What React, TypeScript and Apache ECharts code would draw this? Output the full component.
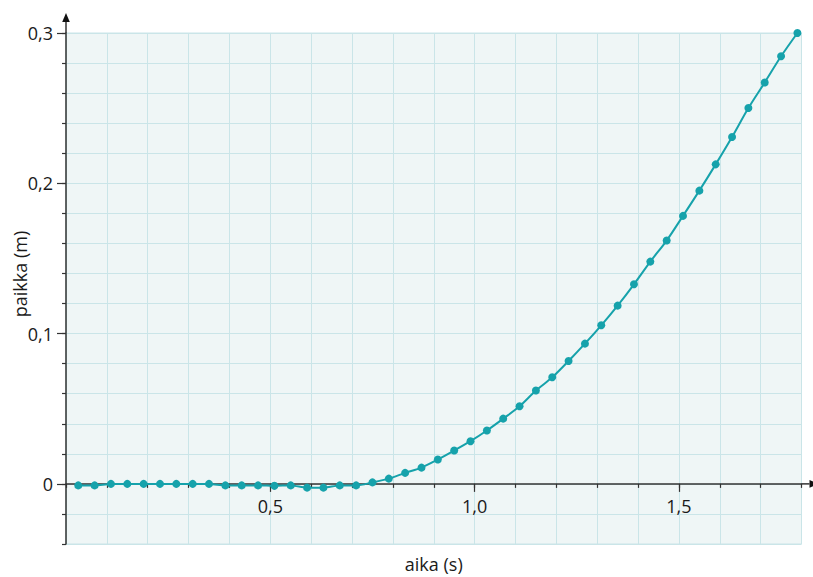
import React, { useEffect, useRef } from 'react';
import * as echarts from 'echarts';

// time (s)
const timeValues = [
  0.03, 0.07, 0.11, 0.15, 0.19, 0.23, 0.27, 0.31, 0.35, 0.39,
  0.43, 0.47, 0.51, 0.55, 0.59, 0.63, 0.67, 0.71, 0.75, 0.79,
  0.83, 0.87, 0.91, 0.95, 0.99, 1.03, 1.07, 1.11, 1.15, 1.19,
  1.23, 1.27, 1.31, 1.35, 1.39, 1.43, 1.47, 1.51, 1.55, 1.59,
  1.63, 1.67, 1.71, 1.75, 1.79,
];
// position (m)
const positionValues = [
  -0.001, -0.001, 0.0, 0.0, 0.0, 0.0, 0.0, 0.0, 0.0, -0.001,
  -0.001, -0.001, -0.0013, -0.001, -0.0025, -0.0025, -0.001, -0.001, 0.001, 0.0035,
  0.0073, 0.0108, 0.0162, 0.0222, 0.0284, 0.0355, 0.0434, 0.0516, 0.0621, 0.0709,
  0.0818, 0.0933, 0.1055, 0.1186, 0.1328, 0.1479, 0.1619, 0.1783, 0.1951, 0.2126,
  0.2308, 0.2501, 0.2671, 0.2845, 0.3,
];
const xMajorTicks = [0.5, 1.0, 1.5];
const yMajorTicks = [0, 0.1, 0.2, 0.3];
const xTitle = 'aika (s)';
const yTitle = 'paikka (m)';

const FONT = '"Open Sans", sans-serif';
const TEAL = '#16a2ab';
const GRIDLINE = '#cae5e8';
const AXIS = '#333333';

const fmt = (v: number) => (v === 0 ? '0' : v.toFixed(1).replace('.', ','));

export default function App() {
  const ref = useRef<HTMLDivElement>(null);
  useEffect(() => {
    if (!ref.current) return;
    const chart = echarts.init(ref.current, undefined, { renderer: 'svg' });
    const data = timeValues.map((t, i) => [t, positionValues[i]]);
    chart.setOption({
      animation: false,
      grid: {
        left: 66,
        right: 11.5,
        top: 33,
        bottom: 33,
        show: true,
        backgroundColor: '#eff6f6',
        borderColor: GRIDLINE,
        borderWidth: 1,
      },
      xAxis: [
        {
          id: 'xMinor',
          type: 'value',
          min: 0,
          max: 1.8,
          interval: 0.1,
          position: 'bottom',
          axisLine: { show: true, onZero: true, onZeroAxisIndex: 0, lineStyle: { color: AXIS, width: 1.5 } },
          axisTick: { show: true, length: 4, lineStyle: { color: AXIS, width: 1.2 } },
          axisLabel: { show: false },
          splitLine: { show: true, lineStyle: { color: GRIDLINE, width: 1 } },
        },
        {
          id: 'xMajor',
          type: 'value',
          min: 0,
          max: 1.8,
          position: 'bottom',
          axisLine: { show: false, onZero: false },
          axisTick: { show: true, length: 8, customValues: xMajorTicks, lineStyle: { color: AXIS, width: 1.2 } },
          axisLabel: {
            show: true,
            customValues: xMajorTicks,
            formatter: (v: number) => fmt(v),
            margin: 13,
            color: '#1a1a1a',
            fontFamily: FONT,
            fontSize: 18,
          },
          splitLine: { show: false },
        },
      ],
      yAxis: [
        {
          type: 'value',
          min: -0.04,
          max: 0.3,
          interval: 0.02,
          position: 'left',
          axisLine: { show: true, onZero: false, lineStyle: { color: AXIS, width: 1.5 } },
          axisTick: { show: true, length: 4, lineStyle: { color: AXIS, width: 1.2 } },
          axisLabel: { show: false },
          splitLine: { show: true, lineStyle: { color: GRIDLINE, width: 1 } },
        },
        {
          type: 'value',
          min: -0.04,
          max: 0.3,
          position: 'left',
          axisLine: { show: false, onZero: false },
          axisTick: { show: true, length: 9, customValues: yMajorTicks, lineStyle: { color: AXIS, width: 1.2 } },
          axisLabel: {
            show: true,
            customValues: yMajorTicks,
            formatter: (v: number) => fmt(v),
            margin: 13,
            color: '#1a1a1a',
            fontFamily: FONT,
            fontSize: 18,
          },
          splitLine: { show: false },
        },
      ],
      series: [
        {
          type: 'line',
          xAxisIndex: 0,
          yAxisIndex: 0,
          data,
          smooth: 0.3,
          symbol: 'circle',
          symbolSize: 8,
          showSymbol: true,
          clip: false,
          lineStyle: { color: TEAL, width: 2 },
          itemStyle: { color: TEAL },
          z: 5,
        },
      ],
    });

    const [x0, yTop] = chart.convertToPixel({ xAxisIndex: 0, yAxisIndex: 0 }, [0, 0.3]) as number[];
    const [xRight, yZero] = chart.convertToPixel({ xAxisIndex: 0, yAxisIndex: 0 }, [1.8, 0]) as number[];
    const yBottom = (chart.convertToPixel({ xAxisIndex: 0, yAxisIndex: 0 }, [0, -0.04]) as number[])[1];
    const xMid = (x0 + xRight) / 2;

    chart.setOption({
      xAxis: [{ id: 'xMajor', offset: -(yBottom - yZero) }],
      graphic: [
        {
          type: 'line',
          shape: { x1: x0, y1: yTop, x2: x0, y2: yTop - 12 },
          style: { stroke: AXIS, lineWidth: 1.5 },
          z: 10,
        },
        {
          type: 'polygon',
          shape: { points: [[x0 - 3.8, yTop - 11], [x0, yTop - 20], [x0 + 3.8, yTop - 11]] },
          style: { fill: '#111' },
          z: 10,
        },
        {
          type: 'line',
          shape: { x1: xRight, y1: yZero, x2: xRight + 8, y2: yZero },
          style: { stroke: AXIS, lineWidth: 1.5 },
          z: 10,
        },
        {
          type: 'polygon',
          shape: { points: [[xRight + 8, yZero - 3.8], [xRight + 17, yZero], [xRight + 8, yZero + 3.8]] },
          style: { fill: '#111' },
          z: 10,
        },
        {
          type: 'text',
          x: 20,
          y: 274,
          rotation: Math.PI / 2,
          style: {
            text: yTitle,
            fill: '#1a1a1a',
            font: `18px ${FONT}`,
            align: 'center',
            verticalAlign: 'middle',
          },
          z: 10,
        },
        {
          type: 'text',
          x: xMid,
          y: yBottom + 20,
          style: {
            text: xTitle,
            fill: '#1a1a1a',
            font: `18px ${FONT}`,
            align: 'center',
            verticalAlign: 'middle',
          },
          z: 10,
        },
      ],
    });

    return () => chart.dispose();
  }, []);
  return (
    <div
      ref={ref}
      style={{ position: 'absolute', left: 0, top: 0, width: 813, height: 577 }}
    />
  );
}
